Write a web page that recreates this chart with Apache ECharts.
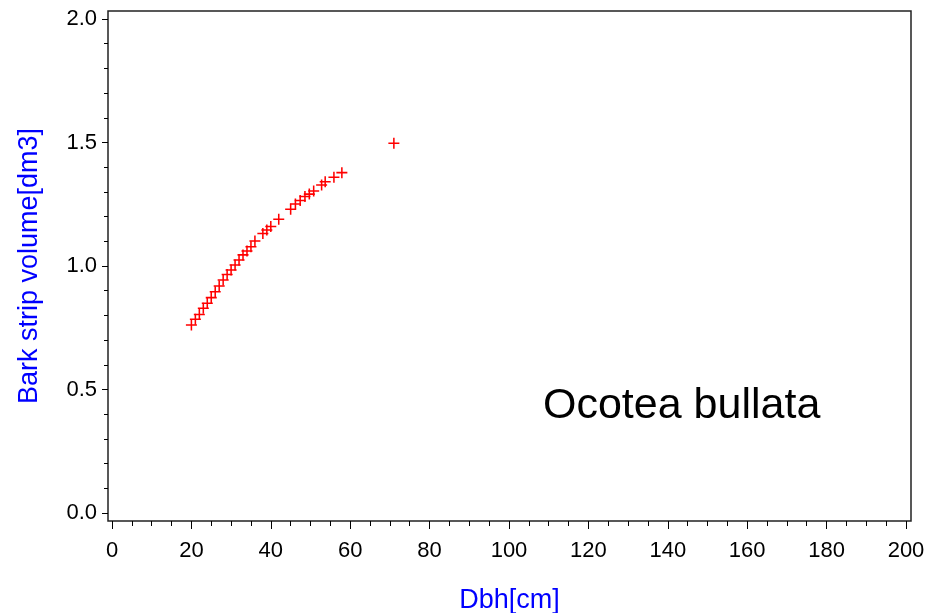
<!DOCTYPE html>
<html>
<head>
    <meta charset="utf-8">
    <title>Ocotea bullata</title>
    <script src="https://cdn.jsdelivr.net/npm/echarts@6/dist/echarts.min.js"></script>
    <style>
        html, body { margin: 0; padding: 0; background: #fff; }
        #main { width: 925px; height: 613px; }
    </style>
</head>
<body>
<div id="main"></div>
<script type="text/javascript">
    // Dbh[cm] 和 树皮体积
    var dbh = [20, 21, 22, 23, 24, 25, 26, 27, 28, 29, 30, 31, 32, 33, 34, 35, 36, 38, 39, 40,
        42, 45, 46.2, 47.4, 48.6, 49.7, 50.8, 52.8, 53.7, 55.9, 57.9, 71];
    var volume = [0.761, 0.784, 0.804, 0.829, 0.849, 0.872, 0.896, 0.919, 0.943, 0.966, 0.984, 1.004,
        1.024, 1.045, 1.061, 1.078, 1.101, 1.132, 1.146, 1.160,
        1.189, 1.230, 1.251, 1.265, 1.281, 1.291, 1.304, 1.328, 1.341, 1.359, 1.378, 1.497];
    var xTicks = [0, 20, 40, 60, 80, 100, 120, 140, 160, 180, 200];
    var yTicks = [0, 0.5, 1.0, 1.5, 2.0];
    var speciesName = 'Ocotea bullata';

    var points = [];
    for (var i = 0; i < dbh.length; i++) {
        points.push([dbh[i], volume[i]]);
    }

    // 小刻度
    var xMinor = [], yMinor = [];
    for (var k = 0; k <= 40; k++) { xMinor.push(k * 5); }
    for (var k = 0; k <= 20; k++) { yMinor.push(k / 10); }

    // 外框比坐标范围稍大 (frame: 0 -> 112px, 200 -> 906px; 0 -> 513px, 2 -> 19px)
    var xPad0 = 4 / 3.97, xPad1 = 5 / 3.97;
    var yPad = 8 / 247;

    var font = 'Liberation Sans';
    // 加号
    var plus = 'path://M4.3,0H5.7V4.3H10V5.7H5.7V10H4.3V5.7H0V4.3H4.3Z';

    var tickStyle = { color: '#000', width: 1 };
    var noLine = { show: false, onZero: false };

    var myChart = echarts.init(document.getElementById('main'));
    var option = {
        backgroundColor: '#fff',
        animation: false,
        grid: {
            left: 108, right: 14, top: 11, bottom: 92,
            outerBoundsMode: 'none',
            containLabel: false,
            show: true, borderColor: '#222', borderWidth: 1.5, backgroundColor: 'transparent'
        },
        xAxis: [
            {
                type: 'value',
                min: xTicks[0] - xPad0,
                max: xTicks[xTicks.length - 1] + xPad1,
                name: 'Dbh[cm]',
                nameLocation: 'middle',
                nameGap: 66,
                nameTextStyle: { color: '#0000ff', fontSize: 27, fontFamily: font },
                axisLine: noLine,
                axisTick: { show: true, inside: false, length: 8, customValues: xTicks, lineStyle: tickStyle },
                axisLabel: { color: '#000', fontSize: 22, fontFamily: font, margin: 19, customValues: xTicks },
                splitLine: { show: false }
            },
            {
                type: 'value',
                min: xTicks[0] - xPad0,
                max: xTicks[xTicks.length - 1] + xPad1,
                position: 'bottom',
                axisLine: noLine,
                axisTick: { show: true, inside: false, length: 5, customValues: xMinor, lineStyle: tickStyle },
                axisLabel: { show: false },
                splitLine: { show: false }
            }
        ],
        yAxis: [
            {
                type: 'value',
                min: yTicks[0] - yPad,
                max: yTicks[yTicks.length - 1] + yPad,
                name: 'Bark strip volume[dm3]',
                nameLocation: 'middle',
                nameGap: 65,
                nameTextStyle: { color: '#0000ff', fontSize: 27, fontFamily: font },
                axisLine: noLine,
                axisTick: { show: true, inside: false, length: 6, customValues: yTicks, lineStyle: tickStyle },
                axisLabel: {
                    color: '#000', fontSize: 22, fontFamily: font, margin: 11, customValues: yTicks,
                    formatter: function (v) { return v.toFixed(1); }
                },
                splitLine: { show: false }
            },
            {
                type: 'value',
                min: yTicks[0] - yPad,
                max: yTicks[yTicks.length - 1] + yPad,
                position: 'left',
                axisLine: noLine,
                axisTick: { show: true, inside: false, length: 4, customValues: yMinor, lineStyle: tickStyle },
                axisLabel: { show: false },
                splitLine: { show: false }
            }
        ],
        graphic: [
            {
                type: 'text',
                left: 543,
                top: 385,
                style: { text: speciesName, fill: '#000', font: '43px ' + font }
            }
        ],
        series: [
            {
                type: 'scatter',
                xAxisIndex: 0,
                yAxisIndex: 0,
                data: points,
                symbol: plus,
                symbolSize: 11,
                itemStyle: { color: '#ff0000', opacity: 1 }
            }
        ]
    };
    myChart.setOption(option);
</script>
</body>
</html>
